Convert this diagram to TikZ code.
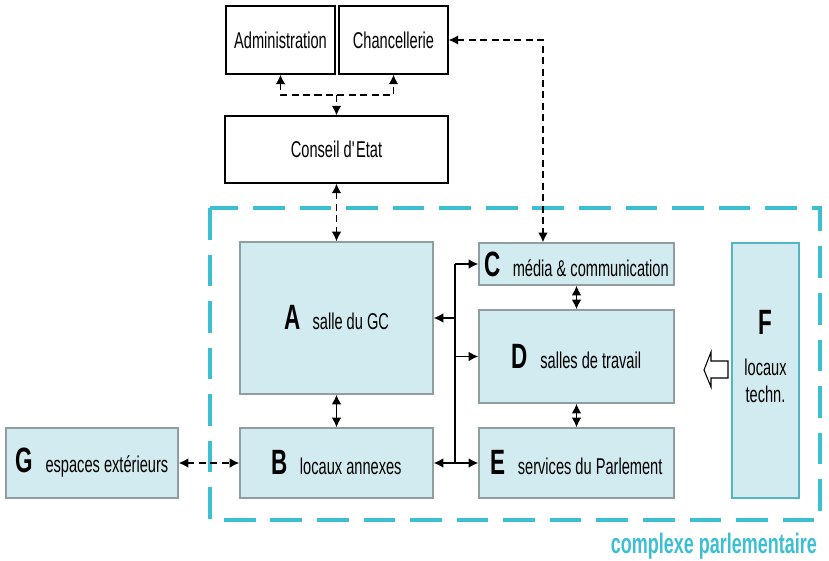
\documentclass[tikz,border=0pt]{standalone}
\usepackage{fontspec}
\setmainfont{Liberation Sans}[FakeStretch=0.64]
\usetikzlibrary{arrows.meta}
\definecolor{roombg}{HTML}{D2EBF0}
\definecolor{roomline}{HTML}{8E9EA2}
\definecolor{parlcyan}{HTML}{3DBFD2}
\newcommand{\roomletter}[1]{{\fontsize{20}{20}\selectfont\bfseries #1}\hspace{7pt}}

\begin{document}
\begin{tikzpicture}[x=0.02cm, y=-0.02cm,
  font=\fontsize{13}{15}\selectfont,
  office/.style={draw=black, line width=0.6pt, fill=white, inner sep=0pt},
  room/.style={draw=roomline, line width=0.7pt, fill=roombg, inner sep=0pt},
  link/.style={line width=1pt, {Latex[length=5.5pt,width=5.5pt]}-{Latex[length=5.5pt,width=5.5pt]}},
  dlink/.style={link, dash pattern=on 4pt off 2.5pt},
  tolink/.style={line width=1pt, -{Latex[length=5.5pt,width=5.5pt]}},
  dtolink/.style={tolink, dash pattern=on 4pt off 2.5pt}]
  \useasboundingbox (0,0) rectangle (829,561);

  % Define nodes
  \node[office, minimum width=2.18cm, minimum height=1.36cm] (adm) at (280.5,40) {Administration};
  \node[office, minimum width=2.18cm, minimum height=1.36cm] (chan) at (393.5,40) {Chancellerie};
  \node[office, minimum width=4.46cm, minimum height=1.34cm] (cons) at (336.5,149.5) {Conseil d\textquotesingle Etat};

  \draw[parlcyan, line width=2.8pt, dash pattern=on 18pt off 8.5pt] (210,208) rectangle (820,520);
  \node[anchor=east, text=parlcyan, font=\fontsize{16}{18}\selectfont\bfseries] (parl) at (823,546) {complexe parlementaire};

  \node[room, minimum width=3.86cm, minimum height=3.04cm] (a) at (336.5,318) {\roomletter{A}salle du GC};
  \node[room, minimum width=3.86cm, minimum height=1.40cm] (b) at (336.5,463) {\roomletter{B}locaux annexes};
  \node[room, minimum width=3.90cm, minimum height=0.84cm] (c) at (576.5,264) {\roomletter{C}média \& communication};
  \node[room, minimum width=3.90cm, minimum height=1.86cm] (d) at (576.5,356.5) {\roomletter{D}salles de travail};
  \node[room, minimum width=3.90cm, minimum height=1.40cm] (e) at (576.5,463) {\roomletter{E}services du Parlement};
  \node[room, draw=parlcyan!70!roomline, minimum width=1.34cm, minimum height=5.10cm] (f) at (765.5,370.5) {};
  \node[font=\fontsize{20}{20}\selectfont\bfseries] (fletter) at (765.5,322) {F};
  \node[align=center] (ftext) at (765.5,381) {locaux\\techn.};
  \node[room, minimum width=3.44cm, minimum height=1.40cm] (g) at (92,463) {\roomletter{G}espaces extérieurs};

  \coordinate (top) at (336.5,95);
  \coordinate (turn) at (543,40);
  \coordinate (bus) at (455,264);

  % Draw edges
  \draw[dlink] (adm.south) |- (top) -| (chan.south);
  \draw[dtolink] (top) -- (cons.north);
  \draw[dlink] (cons.south) -- (a.north);
  \draw[dlink] (chan.east) -- (turn) -- (turn |- c.north);
  \draw[dlink] (g.east) -- (b.west);
  \draw[link] (a.south) -- (b.north);
  \draw[link] (c.south) -- (d.north);
  \draw[link] (d.south) -- (e.north);
  \draw[line width=1pt] (bus) -- (bus |- e.west);
  \draw[tolink] (bus) -- (c.west);
  \draw[tolink] (bus |- a.east) -- (a.east);
  \draw[tolink] (bus |- d.west) -- (d.west);
  \draw[link] (b.east) -- (e.west);

  % Open arrow from F
  \draw[line width=0.6pt, fill=white] (704,370) -- (711,352) -- (711,361) -- (728,361)
    -- (728,378) -- (711,378) -- (711,387) -- cycle;
\end{tikzpicture}
\end{document}
